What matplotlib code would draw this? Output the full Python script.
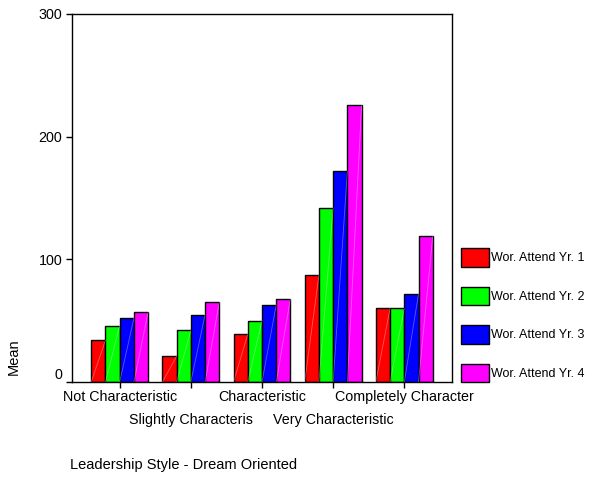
import numpy as np
import matplotlib.pyplot as plt

plt.rcParams['font.family'] = ['Liberation Sans', 'DejaVu Sans']

categories = ['Not Characteristic', 'Slightly Characteris', 'Characteristic',
              'Very Characteristic', 'Completely Character']
series = ['Wor. Attend Yr. 1', 'Wor. Attend Yr. 2', 'Wor. Attend Yr. 3', 'Wor. Attend Yr. 4']
yr1 = [34, 21, 39, 87, 60]
yr2 = [46, 42, 50, 142, 60]
yr3 = [52, 55, 63, 172, 72]
yr4 = [57, 65, 68, 226, 119]
colors = ['#ff0000', '#00ff00', '#0000ff', '#ff00ff']

fig = plt.figure(figsize=(6, 4.78), dpi=100)
ax = fig.add_axes([0.12, 0.2008, 0.6333, 0.77])

x = np.arange(len(categories))
w = 0.2
for k, vals in enumerate([yr1, yr2, yr3, yr4]):
    pos = x + (k - 1.5) * w
    ax.bar(pos, vals, width=w, color=colors[k], edgecolor='black', linewidth=1.0,
           label=series[k], zorder=2)
    # faint diagonal streak like the original
    for p, v in zip(pos, vals):
        ax.plot([p - w / 2, p + w / 2], [0, v], color='white', alpha=0.35, lw=0.6, zorder=3)

ax.set_xlim(-0.67, 4.67)
ax.set_ylim(0, 300)
ax.set_yticks([0, 100, 200, 300])
ax.set_yticklabels(['0', '100', '200', '300'], fontsize=10.3)
ax.get_yticklabels()[0].set_verticalalignment('bottom')

# alternate the category labels on two rows (major = row 1, minor = row 2)
ax.set_xticks(x[::2])
ax.set_xticklabels(categories[::2], fontsize=10.3)
ax.set_xticks(x[1::2], minor=True)
ax.set_xticklabels(categories[1::2], minor=True, fontsize=10.3)
ax.tick_params(axis='both', which='both', length=4, width=1, color='black')
ax.tick_params(axis='x', which='major', pad=2)
ax.tick_params(axis='x', which='minor', pad=18.5)
ax.tick_params(axis='y', pad=3)
for s in ax.spines.values():
    s.set_linewidth(1.0)

ax.legend(loc='upper left', bbox_to_anchor=(461 / 600, 1 - 248 / 478),
          bbox_transform=fig.transFigure, frameon=False, fontsize=9,
          handlelength=2.25, handleheight=1.9, labelspacing=1.6,
          handletextpad=0.15, borderpad=0, borderaxespad=0)

fig.text(14 / 600, 1 - 357 / 478, 'Mean', rotation=90, ha='center', va='center', fontsize=10.5)
fig.text(70 / 600, 1 - 465 / 478, 'Leadership Style - Dream Oriented', ha='left', va='center',
         fontsize=10.5)

fig.savefig('out.png', dpi=100)
